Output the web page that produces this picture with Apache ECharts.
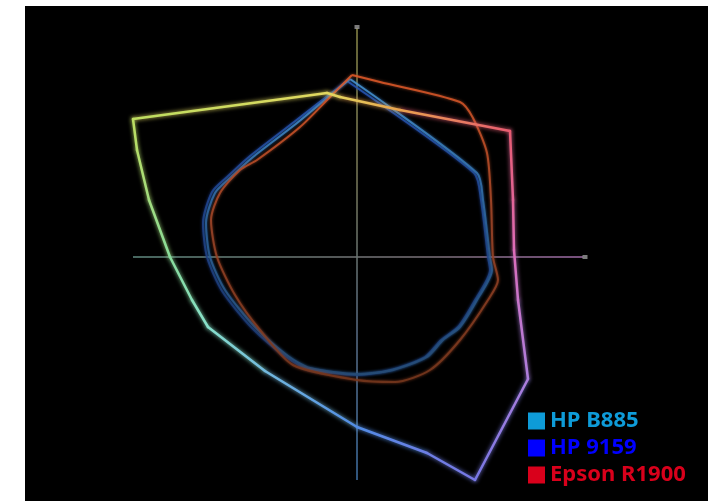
<!DOCTYPE html>
<html>
<head>
<meta charset="utf-8">
<script src="https://cdn.jsdelivr.net/npm/echarts@6/dist/echarts.min.js"></script>
<style>html,body{margin:0;padding:0;background:#fff;}#c{width:719px;height:501px;}</style>
</head>
<body>
<div id="c"></div>
<script>
// Reference (large) gamut outline, a* / b* values
const refA = [-15, -112, -110, -104, -93.5, -82.5, -74.5, -46, 0, 35, 59, 85.5, 80.5, 78.5, 78, 76.5, 21.5, -8.5];
const refB = [82, 69, 53.5, 28.5, 0, -21.5, -35, -57, -85, -98, -111.5, -61, -21.5, 3.5, 28.5, 63, 73.5, 80];

// HP B885
const b885A = [-3.5, 60, 63, 66.5, 67.5, 60, 51.5, 43, 35, 18, 0, -23.5, -34.5, -51, -66, -73.5, -75.5, -71, -63.5, -52, -30, -3.5];
const b885B = [89, 42, 28.5, 0, -6.5, -21.5, -35, -41.5, -50, -56.5, -58.5, -55.5, -49.5, -35, -16.5, 0, 17, 32, 39.5, 50, 67, 89];

// HP 9159
const hp9159A = [-5, 58.5, 62, 65.5, 66.5, 59, 50.5, 42, 34, 17, 0, -24.5, -35.5, -52.5, -67.5, -75, -77, -72.5, -65, -53.5, -31.5, -5];
const hp9159B = [88, 42, 28.5, 0, -6.5, -21.5, -35, -41.5, -50, -56.5, -59, -56, -50, -35.5, -17, 0, 17, 32.5, 40, 50.5, 67.5, 88];

// Epson R1900
const epsonA = [-2.5, 11.5, 51.5, 58, 65, 67, 68, 70.5, 65.5, 51.5, 36.5, 19, 0, -32, -48.5, -61, -70, -73, -68.5, -58.5, -50, -28.5, -13.5, -2.5];
const epsonB = [91, 87.5, 77.5, 69.5, 52, 28.5, 0, -11.5, -21.5, -41.5, -56.5, -62.5, -61.5, -54, -36.5, -19, 0, 18.5, 32, 43.5, 48.5, 65, 80, 91];

// Axes (a* horizontal, b* vertical)
const aAxisA = [-112, 113];
const aAxisB = [0, 0];
const bAxisA = [0, 0];
const bAxisB = [114.5, -111.5];
const axisEndA = [114, 0];
const axisEndB = [0, 115];

const seriesNames = ['HP B885', 'HP 9159', 'Epson R1900'];
const legendColors = ['#0e9bd8', '#0000ff', '#d9001b'];

const zip = (xs, ys) => xs.map((x, i) => [x, ys[i]]);

// hue stops by angle (degrees) for the rainbow outline
const hueStops = [
  [0, [220, 110, 190]],
  [40, [232, 92, 112]],
  [62, [236, 140, 70]],
  [100, [226, 216, 96]],
  [148, [190, 222, 96]],
  [180, [136, 220, 156]],
  [205, [136, 224, 204]],
  [240, [108, 172, 228]],
  [270, [82, 140, 228]],
  [298, [120, 120, 228]],
  [324, [172, 126, 220]],
  [360, [220, 110, 190]]
];
function hueColor(a, b) {
  let ang = Math.atan2(b, a) * 180 / Math.PI;
  if (ang < 0) ang += 360;
  for (let i = 0; i < hueStops.length - 1; i++) {
    const s0 = hueStops[i], s1 = hueStops[i + 1];
    if (ang >= s0[0] && ang <= s1[0]) {
      const t = (ang - s0[0]) / (s1[0] - s0[0]);
      const c = s0[1].map((v, k) => Math.round(v + (s1[1][k] - v) * t));
      return 'rgb(' + c.join(',') + ')';
    }
  }
  return 'rgb(220,110,190)';
}

const n = refA.length;
const segs = refA.map((a, i) => [a, refB[i], refA[(i + 1) % n], refB[(i + 1) % n]]);

function vgrad(stops) {
  return { type: 'linear', x: 0, y: 0, x2: 0, y2: 1, colorStops: stops.map((c, i) => ({ offset: i / (stops.length - 1), color: c })) };
}
function hgrad(stops) {
  return { type: 'linear', x: 0, y: 0, x2: 1, y2: 0, colorStops: stops.map((c, i) => ({ offset: i / (stops.length - 1), color: c })) };
}

function gamutLine(name, data, grad, glow) {
  return {
    name: name, type: 'line', data: data, smooth: 0.25, symbol: 'none', z: 4,
    itemStyle: { color: legendColors[seriesNames.indexOf(name)] },
    lineStyle: { width: 2, color: grad, shadowBlur: 3, shadowColor: glow, opacity: 0.85 }
  };
}

const chart = echarts.init(document.getElementById('c'), null, { renderer: 'canvas' });
chart.setOption({
  backgroundColor: '#ffffff',
  animation: false,
  grid: { left: 25, top: 6, width: 683, height: 495, show: true, backgroundColor: '#000000', borderWidth: 0 },
  xAxis: { type: 'value', min: -166, max: 175.5, show: false },
  yAxis: { type: 'value', min: -122, max: 125.5, show: false },
  legend: {
    orient: 'vertical', left: 523, top: 405, itemWidth: 17, itemHeight: 17, itemGap: 5,
    icon: 'rect', selectedMode: false,
    textStyle: { fontSize: 22, fontWeight: 'bold', fontFamily: 'Noto Sans', lineHeight: 22 },
    data: seriesNames.map((s, i) => ({ name: s, itemStyle: { color: legendColors[i] }, textStyle: { color: legendColors[i] } }))
  },
  series: [
    {
      type: 'line', data: zip(aAxisA, aAxisB), symbol: 'none', z: 2, silent: true,
      lineStyle: { width: 1.5, color: hgrad(['#5f8a80', '#6a7874', '#7a7078', '#a06aa8']) }
    },
    {
      type: 'line', data: zip(bAxisA, bAxisB), symbol: 'none', z: 2, silent: true,
      lineStyle: { width: 1.5, color: vgrad(['#8c8a48', '#7a7a5a', '#5a6e86', '#3f72a8']) }
    },
    {
      type: 'scatter', data: zip(axisEndA, axisEndB), symbol: 'rect', symbolSize: [5, 4], z: 2, silent: true,
      itemStyle: { color: '#9a9a9a' }
    },
    gamutLine('HP 9159', zip(hp9159A, hp9159B), vgrad(['#2656b8', '#1e4086', '#1a3664']), '#1a3a90'),
    gamutLine('HP B885', zip(b885A, b885B), vgrad(['#4898d8', '#2c629c', '#264a72']), '#2f70b0'),
    gamutLine('Epson R1900', zip(epsonA, epsonB), vgrad(['#e45a28', '#9c4428', '#74361c']), '#a04422'),
    {
      type: 'custom', data: segs, z: 5, silent: true,
      encode: { x: [0, 2], y: [1, 3] },
      renderItem: function (params, api) {
        const a1 = api.value(0), b1 = api.value(1), a2 = api.value(2), b2 = api.value(3);
        const p1 = api.coord([a1, b1]);
        const p2 = api.coord([a2, b2]);
        const c1 = hueColor(a1, b1), c2 = hueColor(a2, b2);
        return {
          type: 'line',
          shape: { x1: p1[0], y1: p1[1], x2: p2[0], y2: p2[1] },
          style: {
            stroke: { type: 'linear', x: p1[0], y: p1[1], x2: p2[0], y2: p2[1], global: true,
              colorStops: [{ offset: 0, color: c1 }, { offset: 1, color: c2 }] },
            lineWidth: 2.5, lineCap: 'round', shadowBlur: 4, shadowColor: c1
          }
        };
      }
    }
  ]
});
</script>
</body>
</html>
